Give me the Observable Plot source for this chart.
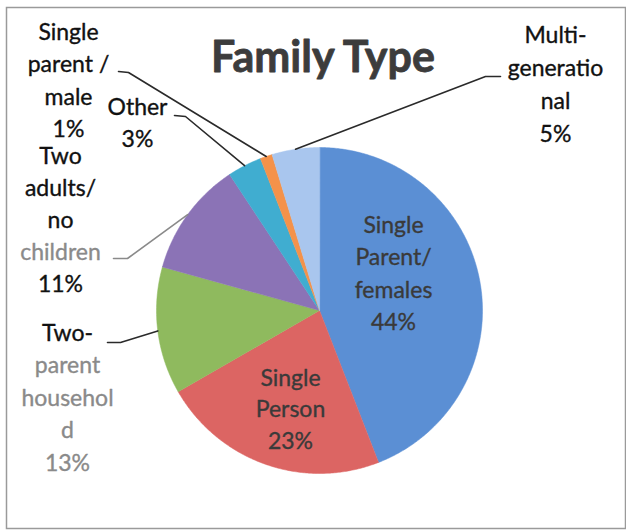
<!DOCTYPE html>
<html><head><meta charset="utf-8">
<script src="https://cdn.jsdelivr.net/npm/d3@7"></script>
<script src="https://cdn.jsdelivr.net/npm/@observablehq/plot@0.6"></script>
<style>body{margin:0;background:#fff} #chart svg{display:block}</style>
</head><body><div id="chart"></div>
<script>
// ---- data ----
const title = "Family Type";
const categories = ["Single Parent/ females","Single Person","Two-parent household","Two adults/ no children","Other","Single parent / male","Multi-generational"];
const values = [44.1, 22.6, 12.6, 11.4, 3.4, 1.2, 4.7];
const nameLines = [
  ["Single","Parent/","females"],
  ["Single","Person"],
  ["Two-","parent","househol","d"],
  ["Two","adults/","no","children"],
  ["Other"],
  ["Single","parent /","male"],
  ["Multi-","generatio","nal"]
];

// ---- styles & layout ----
const colors = ["#5b8fd4","#dc6563","#8fba5e","#8b73b6","#40add0","#f4924a","#a9c6ee"];
const W = 626, H = 531, CX = 319, CY = 310, R = 163;
const ux = px => (px - CX) / R, uy = py => (CY - py) / R;
const layout = [
  {x:393, y:225, gap:32.5, inside:true, gray:[]},
  {x:290, y:378, gap:31.5, inside:true, gray:[]},
  {x:67,  y:333, gap:32.5, gray:[1,2,3,4], leader:[[107,342],[120,342]]},
  {x:60,  y:156, gap:32,   gray:[3], leader:[[113,258],[127,258]], leaderGray:true},
  {x:137, y:107, gap:32,   gray:[], leader:[[174,115],[185,116]]},
  {x:68,  y:32,  gap:32.5, gray:[], leader:[[118,71],[128,72]]},
  {x:555, y:35,  gap:33,   gray:[], leader:[[500,76],[485,76]]}
];

// ---- geometry from data ----
const arcs = d3.pie().sort(null).value(d => d)(values);
const slicePts = arcs.flatMap((a, i) => {
  const n = Math.max(2, Math.ceil((a.endAngle - a.startAngle) / (Math.PI / 360)));
  const pts = [{cat: categories[i], x: 0, y: 0}];
  for (let k = 0; k <= n; k++) {
    const t = a.startAngle + (a.endAngle - a.startAngle) * k / n;
    pts.push({cat: categories[i], x: Math.sin(t), y: Math.cos(t)});
  }
  return pts;
});

const leaderPts = arcs.flatMap((a, i) => {
  const L = layout[i];
  if (!L.leader) return [];
  const m = (a.startAngle + a.endAngle) / 2;
  return [
    ...L.leader.map(([px, py]) => ({cat: categories[i], x: ux(px), y: uy(py), gray: !!L.leaderGray})),
    {cat: categories[i], x: Math.sin(m), y: Math.cos(m), gray: !!L.leaderGray}
  ];
});

const textRows = [];
categories.forEach((c, i) => {
  const L = layout[i];
  const lines = [...nameLines[i], Math.round(values[i]) + "%"];
  lines.forEach((t, k) => {
    textRows.push({
      text: t, x: ux(L.x), y: uy(L.y + k * L.gap),
      fill: L.inside ? "#3a3a3a" : (L.gray.includes(k) ? "#8a8a8a" : "#111")
    });
  });
});

const chart = Plot.plot({
  width: W, height: H, margin: 0,
  x: {domain: [-1, 1], range: [CX - R, CX + R], axis: null},
  y: {domain: [-1, 1], range: [CY + R, CY - R], axis: null},
  color: {domain: categories, range: colors},
  style: {fontFamily: "Lato, 'Open Sans', sans-serif", background: "#fff"},
  marks: [
    Plot.frame({stroke: "#9a9a9a", strokeWidth: 1.5, insetLeft: 6, insetTop: 7, insetRight: 1, insetBottom: 3}),
    Plot.line(slicePts, {x: "x", y: "y", z: "cat", fill: "cat", stroke: "cat", strokeWidth: 0.5, curve: "linear-closed"}),
    Plot.line(leaderPts, {x: "x", y: "y", z: "cat", stroke: d => d.gray ? "#8a8a8a" : "#2a2a2a", strokeWidth: 1.6}),
    Plot.text(textRows, {x: "x", y: "y", text: "text", fill: d => d.fill, fontSize: 23, textAnchor: "middle", lineAnchor: "middle", stroke: d => d.fill, strokeWidth: 0.35}),
    Plot.text([title], {x: () => ux(322.5), y: () => uy(58), text: d => d, fontSize: 43, fontWeight: "bold", fill: "#3c3c3c", stroke: "#3c3c3c", strokeWidth: 0.8, textAnchor: "middle", lineAnchor: "middle"})
  ]
});
document.getElementById("chart").appendChild(chart);
</script>
</body></html>
